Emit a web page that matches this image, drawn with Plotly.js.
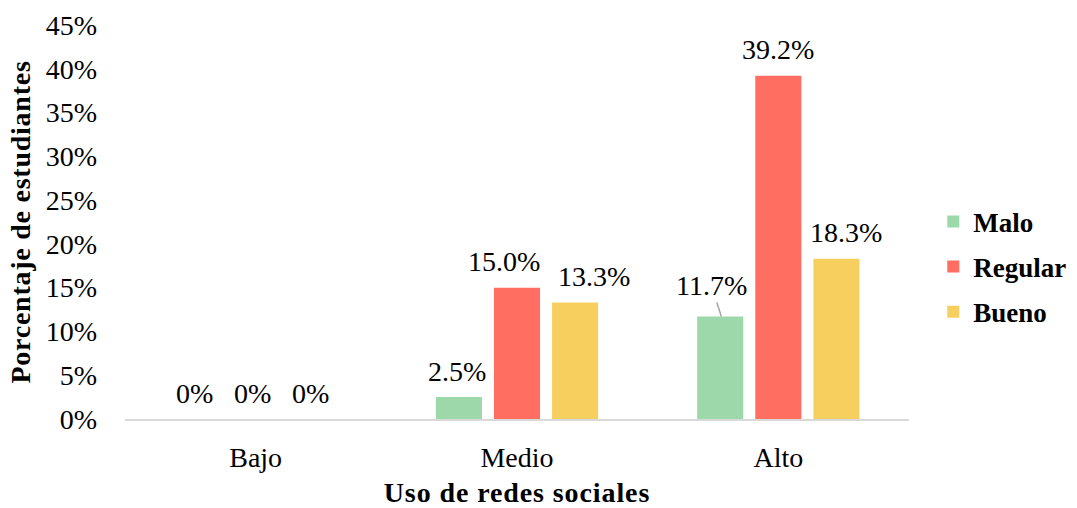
<!DOCTYPE html>
<html>
<head>
<meta charset="utf-8">
<script src="https://cdn.plot.ly/plotly-3.0.1.min.js"></script>
<style>
html,body{margin:0;padding:0;background:#fff;}
#chart{width:1077px;height:508px;}
.g-xtitle text{letter-spacing:0.9px;}
.g-ytitle text{letter-spacing:0.75px;}
</style>
</head>
<body>
<div id="chart"></div>
<script>
const categories = ['Bajo', 'Medio', 'Alto'];
const malo = [0, 2.5, 11.7];
const regular = [0, 15.0, 39.2];
const bueno = [0, 13.3, 18.3];
const seriesNames = ['Malo', 'Regular', 'Bueno'];
const yTickVals = [0, 5, 10, 15, 20, 25, 30, 35, 40, 45];
const yTickText = ['0%', '5%', '10%', '15%', '20%', '25%', '30%', '35%', '40%', '45%'];

const colors = ['#9dd8ab', '#ff6e61', '#f6cf5f'];
const fmt = v => v === 0 ? '0%' : v.toFixed(1) + '%';
const font = 'Liberation Serif, Times New Roman, serif';
const FS = 28;

const allSeries = [malo, regular, bueno];
const traces = allSeries.map((vals, i) => ({
  type: 'bar',
  name: seriesNames[i],
  x: categories,
  y: vals,
  marker: {color: colors[i]},
  legendgroup: 'g' + i,
  hoverinfo: 'x+y+name'
}));

// label placement (pixel shifts from category centre), presentation only
const slotOffset = [-58, 0, 58];
const labelNudge = [[-3, -2, 0], [-3, -13, 0], [-3, 19, 10]]; // [series][category]
const annotations = [];
allSeries.forEach((vals, i) => {
  vals.forEach((v, j) => {
    if (i === 0 && j === 2) {
      annotations.push({
        x: categories[j], y: v, xref: 'x', yref: 'y',
        xshift: slotOffset[i] + 1,
        text: fmt(v),
        showarrow: true, arrowhead: 0, arrowwidth: 1.5, arrowcolor: '#a6a6a6',
        ax: -10, ay: -31, standoff: 0,
        font: {family: font, size: FS, color: '#000'}
      });
    } else {
      annotations.push({
        x: categories[j], y: v, xref: 'x', yref: 'y',
        xshift: slotOffset[i] + labelNudge[i][j], yshift: 26,
        yanchor: 'middle', xanchor: 'center',
        text: fmt(v), showarrow: false,
        font: {family: font, size: FS, color: '#000'}
      });
    }
  });
});

const layout = {
  width: 1077, height: 508,
  paper_bgcolor: '#fff', plot_bgcolor: '#fff',
  margin: {l: 125, r: 168, t: 25, b: 89, autoexpand: false},
  barmode: 'group',
  bargap: 0.333,
  bargroupgap: 0.207,
  font: {family: font, size: FS, color: '#000'},
  xaxis: {
    type: 'category',
    showline: true, linecolor: '#d9d9d9', linewidth: 2,
    ticks: '', showgrid: false,
    ticklabelstandoff: 12,
    tickfont: {family: font, size: FS, color: '#000'},
    title: {text: '<b>Uso de redes sociales</b>', font: {family: font, size: FS, color: '#000'}, standoff: 13}
  },
  yaxis: {
    range: [0, 45],
    tickvals: yTickVals, ticktext: yTickText,
    showgrid: false, zeroline: false, showline: false, ticks: '',
    ticklabelstandoff: 27,
    tickfont: {family: font, size: FS, color: '#000'},
    title: {text: '<b>Porcentaje de estudiantes</b>', font: {family: font, size: FS, color: '#000'}, standoff: 6}
  },
  legend: {
    x: 1.031, y: 0.386, xanchor: 'left', yanchor: 'middle',
    traceorder: 'grouped', tracegroupgap: 7,
    font: {family: font, size: 27, color: '#000', weight: 'bold'},
    itemwidth: 30
  },
  showlegend: true,
  annotations: annotations
};

Plotly.newPlot('chart', traces, layout, {displayModeBar: false, staticPlot: true});
</script>
</body>
</html>
